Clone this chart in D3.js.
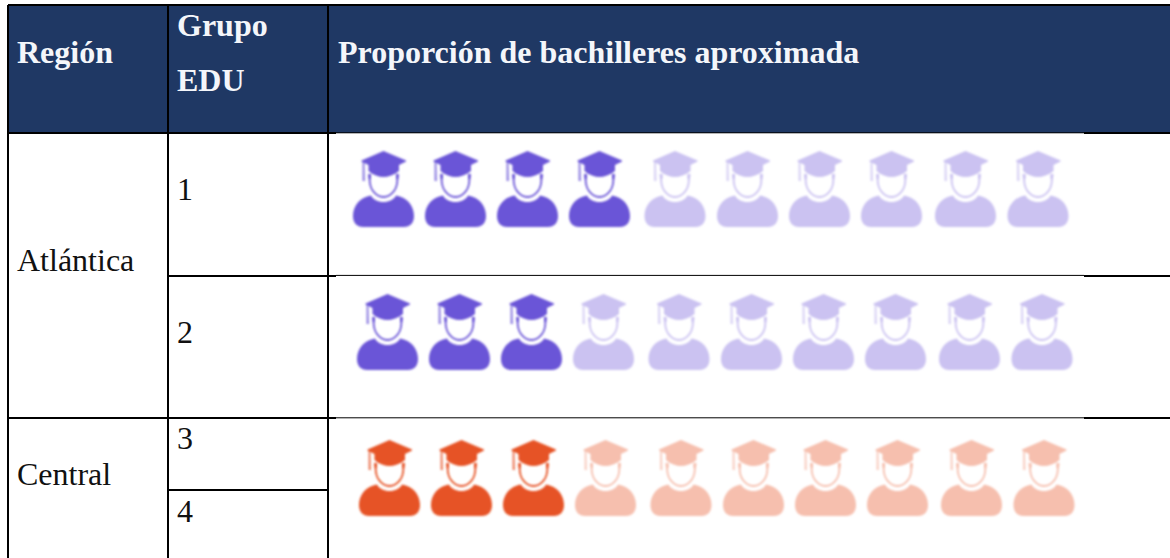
<!DOCTYPE html>
<html>
<head>
<meta charset="utf-8">
<script src="https://cdn.jsdelivr.net/npm/d3@7"></script>
<style>
    html, body { margin: 0; padding: 0; background: #fff; overflow: hidden; }
    svg { display: block; }
    text { font-family: "Liberation Serif", serif; font-size: 32px; fill: #111; }
    .head { font-weight: bold; fill: #f4f6fa; }
</style>
</head>
<body>
<svg id="chart"></svg>
<script>
const headers = ["Región", "Grupo", "EDU", "Proporción de bachilleres aproximada"];
const regions = ["Atlántica", "Central"];
const groups = ["1", "2", "3", "4"];
const rows = ["r1", "r2", "r3"];
const filled = [4, 3, 3];
const iconTotal = 10;
const rowRegion = ["Atlántica", "Atlántica", "Central"];
const regionFull = {"Atlántica": "#6a55d7", "Central": "#e65225"};
const regionPale = {"Atlántica": "#cbc2f1", "Central": "#f6bfae"};

class IconTable {

    constructor(_config) {
        this.config = {
            parentElement: _config.parentElement,
            containerWidth: _config.containerWidth || 1170,
            containerHeight: _config.containerHeight || 558
        }
        this.initVis();
    }

    initVis() {
        let vis = this;

        vis.svg = d3.select(vis.config.parentElement)
            .attr('width', vis.config.containerWidth)
            .attr('height', vis.config.containerHeight);

        // the icons in the picture are soft, scaled up bitmaps
        vis.svg.append('defs').append('filter')
            .attr('id', 'soft')
            .attr('filterUnits', 'userSpaceOnUse')
            .attr('x', -20).attr('y', -20)
            .attr('width', 800).attr('height', 120)
            .append('feGaussianBlur')
            .attr('stdDeviation', 0.8);

        // the icons were pasted by hand, so the columns are not quite evenly spaced
        vis.xScale = d3.scaleOrdinal()
            .domain(d3.range(iconTotal))
            .range([0, 72, 144, 216, 291.5, 364, 436, 508, 582, 654.5]);

        // each row of icons has its own slightly different offset
        vis.rowX = d3.scaleOrdinal().domain(rows).range([353, 357, 359]);
        vis.rowY = d3.scaleOrdinal().domain(rows).range([151, 294, 440]);

        vis.renderHeader();
        vis.renderIcons();
        vis.renderGrid();
        vis.renderLabels();
    }

    renderHeader() {
        let vis = this;

        vis.svg.append('rect')
            .attr('x', 8).attr('y', 5)
            .attr('width', 1162).attr('height', 128)
            .attr('fill', '#1f3864');

        const heads = [
            {t: headers[0], x: 17, y: 63},
            {t: headers[1], x: 177, y: 36},
            {t: headers[2], x: 177, y: 91},
            {t: headers[3], x: 338, y: 63}
        ];
        vis.svg.selectAll('.head')
            .data(heads)
            .join('text')
            .attr('class', 'head')
            .attr('x', d => d.x)
            .attr('y', d => d.y)
            .text(d => d.t);
    }

    renderIcons() {
        let vis = this;

        const rowG = vis.svg.selectAll('.row')
            .data(rows)
            .join('g')
            .attr('class', 'row')
            .attr('filter', 'url(#soft)')
            .attr('transform', d => `translate(${vis.rowX(d)},${vis.rowY(d)})`);

        const icon = rowG.selectAll('.icon')
            .data((d, i) => d3.range(iconTotal).map(k => ({
                k: k,
                color: k < filled[i] ? regionFull[rowRegion[i]] : regionPale[rowRegion[i]]
            })))
            .join('g')
            .attr('class', 'icon')
            .attr('transform', d => `translate(${vis.xScale(d.k)},0)`);

        // shoulders
        icon.append('path')
            .attr('fill', d => d.color)
            .attr('d', 'M18 44.5C20 48.5 25 51 30.5 51C36 51 41 48.5 43 44.5C54 46 61 55 61 65C61 72 57 76 51 76L10 76C4 76 0 72 0 65C0 55 7 46 18 44.5Z');

        // cap
        icon.append('path')
            .attr('fill', d => d.color)
            .attr('d', 'M30.5 0L53 9.5L53 10.5L46 14L46 20C41 24 35 26 30.5 26C26 26 20 24 15.5 20L15.5 14L8.5 10.5L8.5 9.5Z');

        // tassel
        icon.append('path')
            .attr('fill', d => d.color)
            .attr('opacity', 0.7)
            .attr('d', 'M9.5 10L11.5 11L12 30L9.5 30Z');

        // face outline
        icon.append('path')
            .attr('fill', 'none')
            .attr('stroke', d => d.color)
            .attr('stroke-width', 1.8)
            .attr('d', 'M17 24C16 31 17 36 20 40C23 44 27 46 30.5 46C34 46 38 44 41 40C44 36 45 31 44 24');

        // ears
        icon.append('path')
            .attr('fill', d => d.color)
            .attr('d', 'M15 23L18 23L18 28L15.5 28ZM46 23L43 23L43 28L45.5 28Z');
    }

    renderGrid() {
        let vis = this;

        const heavy = [
            [8, 5, 1170, 5],
            [8, 5, 8, 558],
            [168, 5, 168, 558],
            [328, 5, 328, 558],
            [8, 133, 336, 133],
            [1084, 133, 1170, 133],
            [168, 276, 336, 276],
            [1084, 276, 1170, 276],
            [8, 418, 336, 418],
            [1084, 418, 1170, 418],
            [168, 490, 328, 490]
        ];
        const thin = [
            [336, 132.8, 1084, 132.8],
            [336, 275.4, 1084, 275.4],
            [336, 417.8, 1084, 417.8]
        ];
        const drawLines = (lines, w) => {
            vis.svg.append('g').selectAll('line')
                .data(lines)
                .join('line')
                .attr('x1', d => d[0]).attr('y1', d => d[1])
                .attr('x2', d => d[2]).attr('y2', d => d[3])
                .attr('stroke', '#000')
                .attr('stroke-width', w);
        };
        drawLines(heavy, 2);
        drawLines(thin, 1);
    }

    renderLabels() {
        let vis = this;

        const labels = [
            {t: regions[0], x: 17, y: 271},
            {t: regions[1], x: 17, y: 485},
            {t: groups[0], x: 177, y: 200},
            {t: groups[1], x: 177, y: 343},
            {t: groups[2], x: 177, y: 449},
            {t: groups[3], x: 177, y: 522}
        ];
        vis.svg.selectAll('.lab')
            .data(labels)
            .join('text')
            .attr('class', 'lab')
            .attr('x', d => d.x)
            .attr('y', d => d.y)
            .text(d => d.t);
    }
}

new IconTable({parentElement: '#chart'});
</script>
</body>
</html>
